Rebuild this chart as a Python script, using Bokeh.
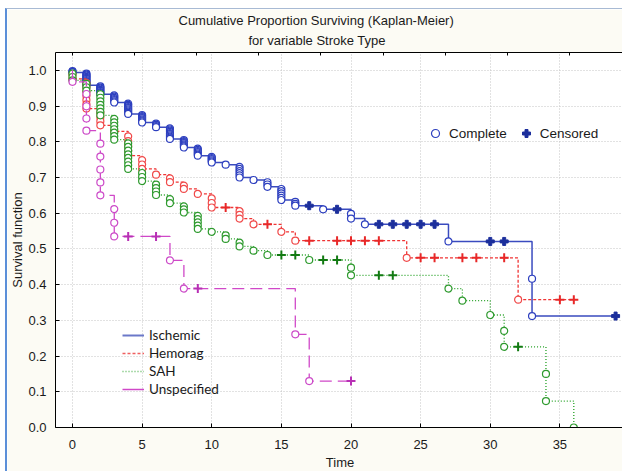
from bokeh.plotting import figure
from bokeh.models import (Range1d, LinearAxis, FixedTicker, SingleIntervalTicker,
                          PrintfTickFormatter, Legend, LegendItem, Title)
from bokeh.embed import file_html
from bokeh.resources import INLINE

NAN = float("nan")

# ---------------- data ----------------
isch_t = [0, 1, 2, 3, 4, 5, 6, 7, 8, 9, 10, 11, 12, 13, 14, 15, 16, 18, 20, 21, 27, 33]
isch_s = [0.994, 0.958, 0.933, 0.910, 0.878, 0.854, 0.841, 0.808, 0.784, 0.761, 0.742,
          0.736, 0.700, 0.693, 0.674, 0.637, 0.621, 0.611, 0.585, 0.569, 0.521, 0.312]
isch_d = [3, 12, 8, 7, 10, 8, 4, 10, 8, 7, 6, 1, 6, 1, 3, 6, 3, 1, 2, 1, 1, 2]
isch_c = [17, 19, 22, 23, 24, 25, 26, 30, 31, 39]

hem_t = [0, 1, 2, 3, 4, 5, 6, 7, 8, 9, 10, 12, 13, 15, 16, 24, 32]
hem_s = [0.976, 0.893, 0.846, 0.829, 0.761, 0.724, 0.708, 0.687, 0.668, 0.654, 0.616,
         0.585, 0.569, 0.548, 0.523, 0.475, 0.358]
hem_d = [2, 7, 4, 1, 5, 3, 1, 2, 2, 1, 3, 3, 1, 1, 1, 1, 1]
hem_c = [11, 14, 17, 19, 20, 21, 22, 25, 26, 28, 29, 31, 35, 36]

sah_t = [0, 1, 2, 3, 4, 5, 6, 7, 8, 9, 10, 11, 12, 13, 14, 17, 20, 27, 28, 30, 31, 34, 36]
sah_s = [0.972, 0.943, 0.874, 0.806, 0.724, 0.690, 0.651, 0.628, 0.602, 0.556, 0.548,
         0.528, 0.507, 0.495, 0.483, 0.469, 0.426, 0.389, 0.355, 0.315, 0.226, 0.074, 0.0]
sah_d = [3, 3, 7, 7, 8, 3, 4, 2, 3, 5, 1, 2, 2, 1, 1, 1, 2, 1, 1, 1, 2, 2, 1]
sah_c = [15, 16, 18, 19, 22, 23, 32]

uns_t = [0, 1, 2, 3, 7, 8, 16, 17]
uns_s = [0.968, 0.831, 0.650, 0.535, 0.468, 0.389, 0.261, 0.130]
uns_d = [1, 4, 5, 3, 1, 1, 1, 1]
uns_c = [4, 6, 9, 20]

group_names = ["Ischemic", "Hemorag", "SAH", "Unspecified"]
x_ticks_step = 5
y_ticks_step = 0.1


def step_xy(times, surv, end):
    xs, ys, prev = [0], [1.0], 1.0
    for t, s in zip(times, surv):
        xs += [t, t]
        ys += [prev, s]
        prev = s
    if end > times[-1]:
        xs.append(end)
        ys.append(prev)
    return xs, ys


def event_points(times, surv, counts):
    xs, ys, prev = [], [], 1.0
    for t, s, d in zip(times, surv, counts):
        for k in range(1, d + 1):
            xs.append(t)
            ys.append(prev - k * (prev - s) / d)
        prev = s
    return xs, ys


def censor_points(times, surv, ctimes):
    ys = []
    for c in ctimes:
        lvl = 1.0
        for t, s in zip(times, surv):
            if t <= c:
                lvl = s
        ys.append(lvl)
    return ctimes, ys


p = figure(width=615, height=462, x_range=Range1d(-1.22, 39.64), y_range=Range1d(0, 1.05),
           output_backend="svg", toolbar_location=None,
           min_border_left=47, min_border_right=0, min_border_top=43, min_border_bottom=41,
           background_fill_color="white", border_fill_color="#fcfbf4",
           styles={"border-left": "2px solid #5b8fd8", "border-top": "1px solid #a8bad4",
                   "box-sizing": "content-box", "margin-left": "5px", "margin-top": "8px"})
p.title = None
p.outline_line_color = None

# axes
for ax in (p.xaxis[0], p.yaxis[0]):
    ax.axis_line_color = "black"
    ax.major_tick_in = 4
    ax.major_tick_out = 0
    ax.major_tick_line_color = "black"
    ax.minor_tick_line_color = None
    ax.major_label_text_font = "Liberation Sans"
    ax.major_label_text_font_size = "13px"
    ax.major_label_text_color = "#1a1a1a"
    ax.axis_label_text_font = "Liberation Sans"
    ax.axis_label_text_font_size = "13px"
    ax.axis_label_text_font_style = "normal"
    ax.axis_label_text_color = "#1a1a1a"
p.xaxis.ticker = SingleIntervalTicker(interval=x_ticks_step)
p.yaxis.ticker = SingleIntervalTicker(interval=y_ticks_step)
p.yaxis.formatter = PrintfTickFormatter(format="%.1f")
p.xaxis.axis_label = "Time"
p.yaxis.axis_label = "Survival function"
p.xaxis.major_label_standoff = 8
p.yaxis.major_label_standoff = 5
p.xaxis.axis_label_standoff = 3
p.yaxis.axis_label_standoff = 0

p.xgrid.ticker = SingleIntervalTicker(interval=x_ticks_step)
p.ygrid.ticker = SingleIntervalTicker(interval=y_ticks_step)
for g in (p.xgrid[0], p.ygrid[0]):
    g.grid_line_color = "#c4c4c4"
    g.grid_line_dash = "1 2"

# top axis with unlabeled ticks
p.extra_x_ranges = {"top": Range1d((54 - 71) / 62.0, (622 - 71) / 62.0)}
top_ax = LinearAxis(x_range_name="top", ticker=FixedTicker(ticks=list(range(0, 9))),
                    major_label_text_font_size="0px", major_label_text_color=None,
                    major_label_standoff=4,
                    major_tick_in=3, major_tick_out=0, minor_tick_line_color=None,
                    axis_line_color="black", major_tick_line_color="black")
p.add_layout(top_ax, "above")

# titles
t2 = Title(text="for variable Stroke Type", align="left", offset=193,
           text_font="Liberation Sans", text_font_size="13px", text_font_style="normal",
           text_color="#1a1a1a", standoff=10, text_line_height=1.0)
p.add_layout(t2, "above")
t1 = Title(text="Cumulative Proportion Surviving (Kaplan-Meier)", align="left", offset=123,
           text_font="Liberation Sans", text_font_size="13px", text_font_style="normal",
           text_color="#1a1a1a", standoff=-5, text_line_height=1.0)
p.add_layout(t1, "above")

groups = [
    dict(t=isch_t, s=isch_s, d=isch_d, c=isch_c, end=39, line="#3a4bbf", dash="solid", lw=1.5,
         circ="#2d3fbf", cm="plus", cc="#1c2f9c"),
    dict(t=hem_t, s=hem_s, d=hem_d, c=hem_c, end=36, line="#f03434", dash="3 2", lw=1.3,
         circ="#f04a4a", cm="cross", cc="#e82828"),
    dict(t=sah_t, s=sah_s, d=sah_d, c=sah_c, end=36, line="#22a022", dash="1 2", lw=1.3,
         circ="#2e9a2e", cm="cross", cc="#127a12"),
    dict(t=uns_t, s=uns_s, d=uns_d, c=uns_c, end=20, line="#d048c8", dash="12 6", lw=1.3,
         circ="#cc4ac8", cm="cross", cc="#b830b5"),
]

for g in groups:
    xs, ys = step_xy(g["t"], g["s"], g["end"])
    p.line(xs, ys, line_color=g["line"], line_dash=g["dash"], line_width=g["lw"])
    ex, ey = event_points(g["t"], g["s"], g["d"])
    p.scatter(ex, ey, marker="circle", size=7, fill_color="white",
              line_color=g["circ"], line_width=1.2)
    cx, cy = censor_points(g["t"], g["s"], g["c"])
    if g["cm"] == "plus":
        p.scatter(cx, cy, marker="plus", size=8, fill_color=g["cc"], line_color=g["cc"],
                  line_width=1)
    else:
        p.scatter(cx, cy, marker="cross", size=9, line_color=g["cc"], line_width=2)

# legend proxies (no visible data)
lg_circ = p.scatter([NAN], [NAN], marker="circle", size=7, fill_color="white",
                    line_color="#2d3fbf", line_width=1.2)
lg_plus = p.scatter([NAN], [NAN], marker="plus", size=9, fill_color="#1c2f9c",
                    line_color="#1c2f9c")
leg_top = Legend(items=[LegendItem(label="Complete", renderers=[lg_circ]),
                        LegendItem(label="Censored", renderers=[lg_plus])],
                 location=(370, 284), orientation="horizontal",
                 border_line_color=None, background_fill_alpha=0,
                 padding=0, margin=0, spacing=9, glyph_width=20, glyph_height=20,
                 label_standoff=4, label_text_font="Liberation Sans",
                 label_text_font_size="13.5px", label_text_color="#1a1a1a")
p.add_layout(leg_top)

lg_lines = [
    p.line([NAN, NAN], [NAN, NAN], line_color="#6b78c9", line_width=2),
    p.line([NAN, NAN], [NAN, NAN], line_color="#f06060", line_width=1.5, line_dash="3 2"),
    p.line([NAN, NAN], [NAN, NAN], line_color="#5cb85c", line_width=1.5, line_dash="1 2"),
    p.line([NAN, NAN], [NAN, NAN], line_color="#d048c8", line_width=1.5),
]
leg_bot = Legend(items=[LegendItem(label=n, renderers=[r]) for n, r in zip(group_names, lg_lines)],
                 location=(67, 30), orientation="vertical",
                 border_line_color=None, background_fill_alpha=0,
                 padding=0, margin=0, spacing=2, glyph_width=22, glyph_height=16,
                 label_height=16, label_standoff=5, label_text_font="Lato",
                 label_text_font_size="13.5px", label_text_color="#1a1a1a")
p.add_layout(leg_bot)

open("out.html", "w").write(file_html(p, INLINE))
